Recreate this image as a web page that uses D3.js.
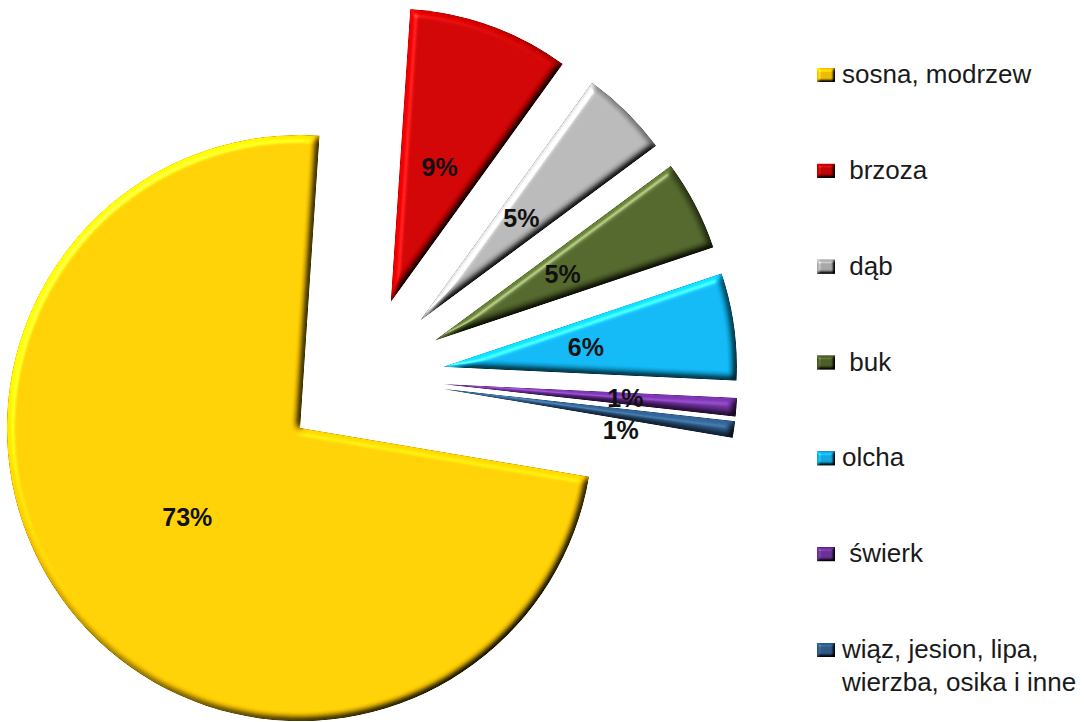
<!DOCTYPE html>
<html>
<head>
<meta charset="utf-8">
<script src="https://cdn.jsdelivr.net/npm/d3@7/dist/d3.min.js"></script>
<style>
  html, body { margin: 0; padding: 0; background: #ffffff; }
  svg { display: block; }
  text { font-family: "Liberation Sans", Arial, sans-serif; white-space: pre; }
</style>
</head>
<body>
<svg id="chart" width="1084" height="722"></svg>
<script>
// ---- data ----
const categories = [
  "sosna, modrzew",
  " brzoza",
  " dąb",
  " buk",
  "olcha",
  " świerk",
  "wiąz, jesion, lipa,\nwierzba, osika i inne"
];
const values = [73.4, 8.9, 4.9, 5.0, 5.9, 1.0, 0.9];
const colors = ["#FFCC00", "#CC0000", "#B4B4B4", "#4F6228", "#0EB4F0", "#7030A0", "#2E5C8A"];

// ---- layout ----
const W = 1084, H = 722;
const cx = 363.5, cy = 377.8;     // pie centre
const R = 293;                    // radius
const explode = 81;               // distance each slice is pulled out
const startDeg = 99.56;           // first slice starts here (clockwise from 12 o'clock)

const svg = d3.select("#chart");
const defs = svg.append("defs");

function makeBevel(id, std, scale, spec) {
  const f = defs.append("filter").attr("id", id)
    .attr("x", "-10%").attr("y", "-10%").attr("width", "120%").attr("height", "120%")
    .attr("color-interpolation-filters", "sRGB");
  f.append("feGaussianBlur").attr("in", "SourceAlpha").attr("stdDeviation", std).attr("result", "b");
  f.append("feDiffuseLighting").attr("in", "b").attr("surfaceScale", scale)
    .attr("diffuseConstant", 1).attr("lighting-color", "#ffffff").attr("result", "d")
    .append("feDistantLight").attr("azimuth", 225).attr("elevation", 50);
  f.append("feComposite").attr("in", "SourceGraphic").attr("in2", "d")
    .attr("operator", "arithmetic").attr("k1", 1.305).attr("k2", 0).attr("k3", 0).attr("k4", 0)
    .attr("result", "lit");
  f.append("feSpecularLighting").attr("in", "b").attr("surfaceScale", scale)
    .attr("specularConstant", spec).attr("specularExponent", 40)
    .attr("lighting-color", "#ffffff").attr("result", "s")
    .append("feDistantLight").attr("azimuth", 225).attr("elevation", 50);
  f.append("feComposite").attr("in", "s").attr("in2", "SourceAlpha").attr("operator", "in").attr("result", "s2");
  f.append("feComposite").attr("in", "lit").attr("in2", "s2")
    .attr("operator", "arithmetic").attr("k1", 0).attr("k2", 1).attr("k3", 1).attr("k4", 0);
}
makeBevel("bevel", 3.5, 4.5, 0.35);
makeBevel("bevelSmall", 1.5, 3, 0.3);

const data = categories.map((c, i) => ({ name: c, value: values[i], color: colors[i] }));

const start = startDeg * Math.PI / 180;
const pie = d3.pie().sort(null).value(d => d.value)
  .startAngle(start).endAngle(start + 2 * Math.PI);
const arcs = pie(data);
const arc = d3.arc().innerRadius(0).outerRadius(R);
const total = d3.sum(values);
const pct = d3.format(".0%");

const g = svg.append("g").attr("transform", `translate(${cx},${cy})`);

arcs.forEach(a => {
  const mid = (a.startAngle + a.endAngle) / 2;
  a.mid = mid;
  a.ox = explode * Math.sin(mid);
  a.oy = -explode * Math.cos(mid);
});

g.selectAll("path.slice")
  .data(arcs)
  .join("path")
  .attr("class", "slice")
  .attr("transform", d => `translate(${d.ox},${d.oy})`)
  .attr("d", arc)
  .attr("fill", d => d.data.color)
  .attr("filter", "url(#bevel)");

// ---- data labels ----
const placed = [];
arcs.forEach(a => {
  const small = a.data.value < 2;
  const lr = small ? 0.62 * R : 0.49 * R;
  let ang = a.mid;
  let x, y;
  for (let k = 0; k < 40; k++) {
    x = a.ox + lr * Math.sin(ang);
    y = a.oy - lr * Math.cos(ang);
    const clash = placed.some(p => Math.abs(p.x - x) < 44 && Math.abs(p.y - y) < 30);
    if (!clash) break;
    ang += Math.PI / 180;
  }
  placed.push({ x, y });
  a.lx = x; a.ly = y;
});

g.selectAll("text.lbl")
  .data(arcs)
  .join("text")
  .attr("class", "lbl")
  .attr("x", d => d.lx)
  .attr("y", d => d.ly)
  .attr("dy", "0.36em")
  .attr("text-anchor", "middle")
  .attr("font-size", 25)
  .attr("font-weight", "bold")
  .attr("fill", "#111111")
  .text(d => pct(d.data.value / total));

// ---- legend ----
const legY = d3.scalePoint().domain(categories).range([83, 658]);
const legend = svg.append("g");
const items = legend.selectAll("g.item").data(data).join("g").attr("class", "item")
  .attr("transform", d => `translate(0,${legY(d.name)})`);

items.append("rect")
  .attr("x", 817).attr("y", -15)
  .attr("width", 18).attr("height", 14)
  .attr("fill", d => d3.color(d.color).darker(0.3))
  .attr("filter", "url(#bevelSmall)");

items.append("text")
  .attr("font-size", 26)
  .attr("fill", "#1a1a1a")
  .each(function (d) {
    const lines = d.name.split("\n");
    const t = d3.select(this);
    lines.forEach((ln, i) => {
      t.append("tspan")
        .attr("x", 842)
        .attr("y", i * 33)
        .text(ln);
    });
  });
</script>
</body>
</html>
